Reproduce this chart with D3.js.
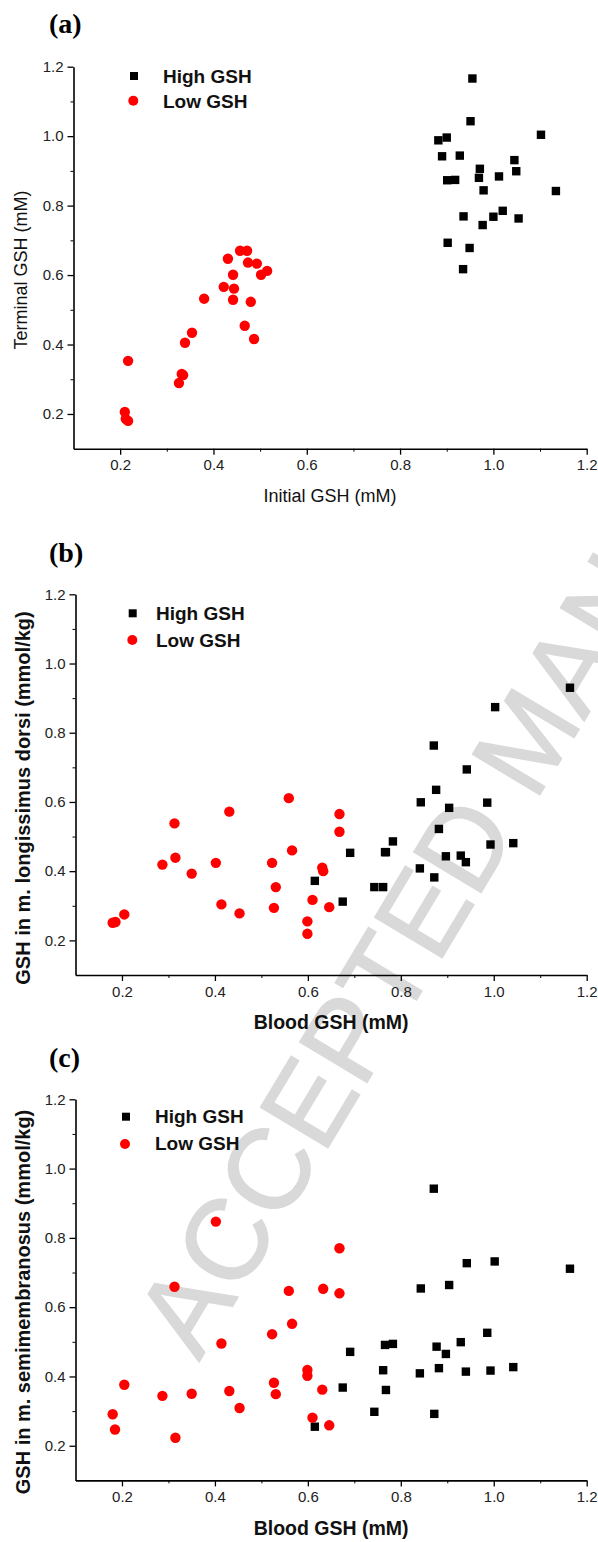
<!DOCTYPE html>
<html>
<head>
<meta charset="utf-8">
<script src="https://cdn.jsdelivr.net/npm/d3@7"></script>
<style>
  html, body { margin: 0; padding: 0; background: #fff; }
  svg { display: block; font-family: "Liberation Sans", Arial, sans-serif; }
</style>
</head>
<body>
<svg id="chart" width="598" height="1542"></svg>
<script>
// axis ticks shared by all three panels
const majorTicks = [0.2, 0.4, 0.6, 0.8, 1.0, 1.2];
const minorTicks = [0.3, 0.5, 0.7, 0.9, 1.1];
const legendLabels = ["High GSH", "Low GSH"];

// (a) initial vs terminal GSH, [x, y]
const aHigh = [
  [0.955, 1.166], [0.951, 1.043], [0.882, 0.988], [0.900, 0.996], [1.102, 1.004],
  [0.890, 0.942], [0.928, 0.944], [1.045, 0.931], [0.971, 0.906], [1.049, 0.899],
  [1.012, 0.884], [0.901, 0.873], [0.918, 0.874], [0.969, 0.880], [0.979, 0.844],
  [1.134, 0.842], [0.936, 0.769], [1.000, 0.768], [1.020, 0.785], [1.054, 0.763],
  [0.977, 0.744], [0.902, 0.693], [0.949, 0.678], [0.935, 0.617]
];
const aLow = [
  [0.457, 0.670], [0.472, 0.670], [0.431, 0.647], [0.474, 0.636], [0.493, 0.633],
  [0.442, 0.601], [0.502, 0.601], [0.515, 0.612], [0.422, 0.566], [0.444, 0.561],
  [0.380, 0.532], [0.442, 0.529], [0.480, 0.523], [0.467, 0.454], [0.487, 0.416],
  [0.354, 0.434], [0.339, 0.405], [0.217, 0.353], [0.332, 0.315], [0.335, 0.312],
  [0.326, 0.289], [0.210, 0.206], [0.212, 0.186], [0.217, 0.180]
];

// (b) blood GSH vs m. longissimus dorsi
const bHigh = [
  [0.942, 0.694], [0.876, 0.635], [0.843, 0.599], [0.986, 0.598], [0.904, 0.583],
  [0.882, 0.522], [0.783, 0.486], [0.766, 0.455], [0.768, 0.455], [0.691, 0.453],
  [0.993, 0.477], [1.042, 0.481], [0.897, 0.443], [0.929, 0.445], [0.940, 0.426],
  [0.841, 0.408], [0.872, 0.382], [0.743, 0.354], [0.762, 0.354], [0.615, 0.372],
  [0.675, 0.312], [1.164, 0.930], [1.003, 0.874], [0.871, 0.763]
];
const bLow = [
  [0.180, 0.251], [0.186, 0.253], [0.205, 0.275], [0.287, 0.419], [0.313, 0.538],
  [0.315, 0.439], [0.350, 0.393], [0.402, 0.424], [0.431, 0.572], [0.414, 0.304],
  [0.453, 0.278], [0.523, 0.424], [0.531, 0.354], [0.527, 0.294], [0.559, 0.611],
  [0.566, 0.460], [0.668, 0.565], [0.668, 0.514], [0.631, 0.410], [0.633, 0.400],
  [0.610, 0.317], [0.646, 0.296], [0.599, 0.255], [0.599, 0.219]
];

// (c) blood GSH vs m. semimembranosus
const cHigh = [
  [0.843, 0.654], [0.904, 0.664], [0.986, 0.526], [0.929, 0.499], [0.766, 0.491],
  [0.783, 0.494], [0.877, 0.486], [0.691, 0.471], [0.897, 0.465], [1.042, 0.427],
  [0.762, 0.418], [0.882, 0.424], [0.841, 0.409], [0.940, 0.414], [0.993, 0.417],
  [0.675, 0.368], [0.768, 0.361], [0.743, 0.298], [0.872, 0.292], [0.615, 0.255],
  [0.871, 0.942], [0.942, 0.727], [1.002, 0.732], [1.164, 0.711]
];
const cLow = [
  [0.180, 0.291], [0.185, 0.247], [0.205, 0.376], [0.287, 0.344], [0.315, 0.223],
  [0.313, 0.659], [0.350, 0.350], [0.414, 0.495], [0.431, 0.358], [0.453, 0.309],
  [0.523, 0.522], [0.527, 0.382], [0.531, 0.349], [0.559, 0.647], [0.566, 0.552],
  [0.402, 0.847], [0.633, 0.653], [0.668, 0.640], [0.599, 0.419], [0.599, 0.402],
  [0.631, 0.362], [0.610, 0.281], [0.646, 0.259], [0.668, 0.770]
];

const svg = d3.select("#chart");

// watermark sits behind everything
svg.append("text")
  .attr("transform", "translate(199,1362) rotate(-59)")
  .attr("font-size", 114)
  .attr("fill", "#d9d9d9")
  .attr("stroke", "#d9d9d9")
  .attr("stroke-width", 1.5)
  .text("ACCEPTED MANUSCRIPT");

const panels = [
  {
    tag: "(a)", tagX: 49, tagY: 33,
    left: 73.5, right: 586.7, top: 66.7, bottom: 448.7,
    high: aHigh, low: aLow,
    xLabel: "Initial GSH (mM)", yLabel: "Terminal GSH (mM)",
    bold: false, xLabelY: 502, yLabelX: 27, yLabelMid: 270,
    legend: { sq: [134, 76], ci: [133.3, 100.7], textX: 163, y1: 83, y2: 108 }
  },
  {
    tag: "(b)", tagX: 49, tagY: 561.5,
    left: 75.5, right: 586.7, top: 594.3, bottom: 975,
    high: bHigh, low: bLow,
    xLabel: "Blood GSH (mM)", yLabel: "GSH in m. longissimus dorsi (mmol/kg)",
    bold: true, xLabelY: 1029, yLabelX: 30, yLabelMid: 798,
    legend: { sq: [132.7, 613.3], ci: [132.3, 640], textX: 156, y1: 620, y2: 647 }
  },
  {
    tag: "(c)", tagX: 49, tagY: 1066.5,
    left: 75.5, right: 586.7, top: 1099.3, bottom: 1480.4,
    high: cHigh, low: cLow,
    xLabel: "Blood GSH (mM)", yLabel: "GSH in m. semimembranosus (mmol/kg)",
    bold: true, xLabelY: 1535, yLabelX: 30, yLabelMid: 1302,
    legend: { sq: [126, 1116.7], ci: [125, 1144], textX: 155, y1: 1123, y2: 1150 }
  }
];

panels.forEach(function(p) {
  const x = d3.scaleLinear().domain([0.1, 1.2]).range([p.left, p.right]);
  const y = d3.scaleLinear().domain([0.1, 1.2]).range([p.bottom, p.top]);
  const g = svg.append("g");

  // minor ticks first, majors (with the axis line) on top
  g.append("g").attr("transform", `translate(0,${p.bottom})`)
    .call(d3.axisBottom(x).tickValues(minorTicks).tickSize(3).tickSizeOuter(0).tickFormat(""))
    .call(s => s.select(".domain").remove());
  g.append("g").attr("transform", `translate(${p.left},0)`)
    .call(d3.axisLeft(y).tickValues(minorTicks).tickSize(3).tickSizeOuter(0).tickFormat(""))
    .call(s => s.select(".domain").remove());

  const xAxis = g.append("g").attr("transform", `translate(0,${p.bottom})`)
    .call(d3.axisBottom(x).tickValues(majorTicks).tickSize(6).tickSizeOuter(0)
      .tickPadding(5).tickFormat(d3.format(".1f")));
  const yAxis = g.append("g").attr("transform", `translate(${p.left},0)`)
    .call(d3.axisLeft(y).tickValues(majorTicks).tickSize(6).tickSizeOuter(0)
      .tickPadding(4).tickFormat(d3.format(".1f")));

  [xAxis, yAxis].forEach(function(a) {
    a.selectAll("text").attr("font-size", 15).attr("fill", "#222")
      .attr("font-family", "'Liberation Sans', Arial, sans-serif");
    a.selectAll("line").attr("stroke-width", 1.3);
    a.select(".domain").attr("stroke-width", 1.6);
  });
  g.selectAll(".tick line").attr("stroke", "#000");

  // markers
  g.append("g").selectAll("rect").data(p.high).enter().append("rect")
    .attr("x", d => x(d[0]) - 4.2).attr("y", d => y(d[1]) - 4.2)
    .attr("width", 8.4).attr("height", 8.4).attr("fill", "#000");
  g.append("g").selectAll("circle").data(p.low).enter().append("circle")
    .attr("cx", d => x(d[0])).attr("cy", d => y(d[1])).attr("r", 5.2)
    .attr("fill", "#ff0000");

  // axis titles
  const weight = p.bold ? "bold" : "normal";
  const size = p.bold ? 20 : 18;
  g.append("text")
    .attr("x", (p.left + p.right) / 2).attr("y", p.xLabelY)
    .attr("text-anchor", "middle").attr("font-size", p.bold ? 19.5 : size)
    .attr("font-weight", weight).attr("fill", "#111")
    .text(p.xLabel);
  g.append("text")
    .attr("transform", `translate(${p.yLabelX},${p.yLabelMid}) rotate(-90)`)
    .attr("text-anchor", "middle").attr("font-size", size)
    .attr("font-weight", weight).attr("fill", "#111")
    .text(p.yLabel);

  // panel tag
  g.append("text")
    .attr("x", p.tagX).attr("y", p.tagY)
    .attr("font-family", "'Liberation Serif', 'Times New Roman', serif")
    .attr("font-weight", "bold").attr("font-size", 28)
    .text(p.tag);

  // legend
  const L = p.legend;
  g.append("rect").attr("x", L.sq[0] - 4).attr("y", L.sq[1] - 4)
    .attr("width", 8).attr("height", 8).attr("fill", "#000");
  g.append("circle").attr("cx", L.ci[0]).attr("cy", L.ci[1]).attr("r", 5)
    .attr("fill", "#ff0000");
  g.selectAll(".leg").data(legendLabels).enter().append("text")
    .attr("x", L.textX).attr("y", (d, i) => i === 0 ? L.y1 : L.y2)
    .attr("font-size", 19).attr("font-weight", "bold").attr("fill", "#111")
    .text(d => d);
});
</script>
</body>
</html>
